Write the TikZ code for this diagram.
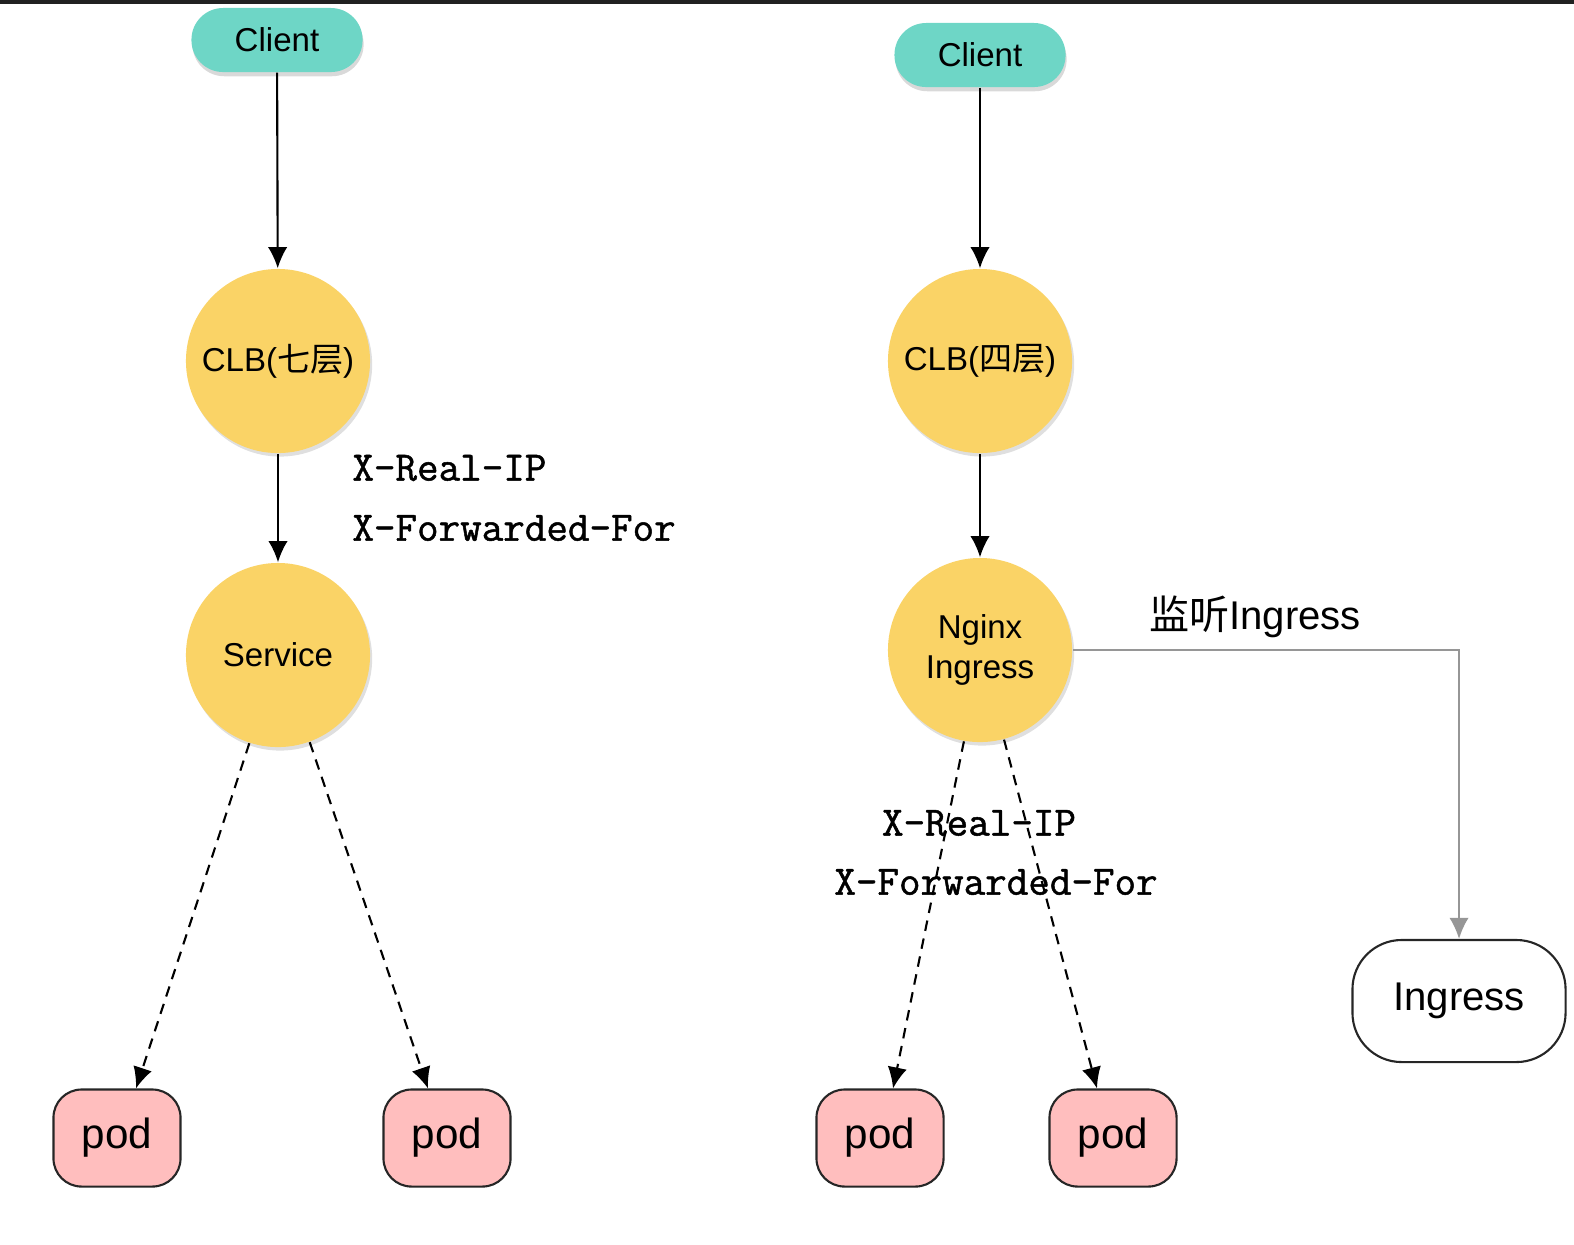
\documentclass[tikz,border=0pt]{standalone}
\usepackage{fontspec}
\setmainfont{Liberation Sans}
\newfontfamily\hdrfont[FakeBold=1.2]{Latin Modern Mono}
\newfontfamily\cjk{Noto Sans CJK SC}
\usepackage{tikz}
\usetikzlibrary{calc,shapes,arrows.meta,shadows}

\definecolor{clientcol}{RGB}{110,214,198}
\definecolor{circcol}{RGB}{250,211,102}
\definecolor{podcol}{RGB}{255,190,190}
\definecolor{linkgray}{RGB}{150,150,150}

\begin{document}
\begin{tikzpicture}[x=0.01cm,y=-0.01cm,
        client/.style={rectangle,rounded corners=9pt,fill=clientcol,minimum width=1.71cm,minimum height=0.64cm,
            font=\fontsize{9.4}{11}\selectfont,drop shadow={opacity=0.3,shadow xshift=0.3pt,shadow yshift=-1.2pt}},
        lb/.style={circle,fill=circcol,minimum size=1.84cm,inner sep=0pt,align=center,
            font=\fontsize{9.4}{11.5}\selectfont,drop shadow={opacity=0.25,shadow xshift=0.6pt,shadow yshift=-1pt}},
        pod/.style={rectangle,rounded corners=8pt,draw=black!85,line width=0.6pt,fill=podcol,
            minimum width=1.27cm,minimum height=0.97cm,font=\fontsize{12}{14}\selectfont},
        hdr/.style={font=\hdrfont\fontsize{11.9}{13}\selectfont},
        arr/.style={line width=0.6pt,-{Latex[length=6pt,width=5.5pt]}},
        darr/.style={arr,dash pattern=on 3pt off 2.2pt}]
    \useasboundingbox (0,0) rectangle (1574,1244);
    \fill[black!87] (0,0) rectangle (1574,4);

    % left: CLB seven layer
    \node[client] (clientA) at (277,40) {Client};
    \node[lb] (clbA) at (278,361) {CLB({\cjk 七层})};
    \node[lb] (svc) at (278,655) {Service};
    \node[pod] (podA) at (117,1138) {pod};
    \node[pod] (podB) at (447,1138) {pod};
    \draw[arr] (clientA) -- (clbA);
    \draw[arr] (clbA) -- (svc);
    \draw[darr] (svc.-108) -- (podA.north -| 136,0);
    \draw[darr] (svc.-70) -- (podB.north -| 428,0);
    \node[hdr,anchor=west] (hdrA) at (340,468) {X-Real-IP};
    \node[hdr,anchor=west] (hdrB) at (340,528) {X-Forwarded-For};

    % right: CLB four layer
    \node[client] (clientB) at (980,55) {Client};
    \node[lb] (clbB) at (980,361) {CLB({\cjk 四层})};
    \node[lb] (ngx) at (980,650) {Nginx\\Ingress};
    \node[pod] (podC) at (880,1138) {pod};
    \node[pod] (podD) at (1113,1138) {pod};
    \node[rectangle,rounded corners=14pt,draw=black!85,line width=0.6pt,fill=white,minimum width=2.13cm,
        minimum height=1.22cm,font=\fontsize{11.4}{13}\selectfont] (ing) at (1459,1001) {Ingress};
    \draw[arr] (clientB) -- (clbB);
    \draw[arr] (clbB) -- (ngx);
    \draw[darr] (ngx.-100) -- (podC.north -| 893,0);
    \draw[darr] (ngx.-75) -- (podD.north -| 1097,0);
    \draw[arr,draw=linkgray,-{Latex[length=6pt,width=5.5pt,fill=linkgray]}] (ngx.east) -| (ing.north);
    \node[font=\fontsize{11.4}{13}\selectfont] (watch) at (1255,617) {{\cjk 监听}Ingress};
    \node[hdr] (hdrC) at (979,823) {X-Real-IP};
    \node[hdr] (hdrD) at (996,882) {X-Forwarded-For};
\end{tikzpicture}
\end{document}
